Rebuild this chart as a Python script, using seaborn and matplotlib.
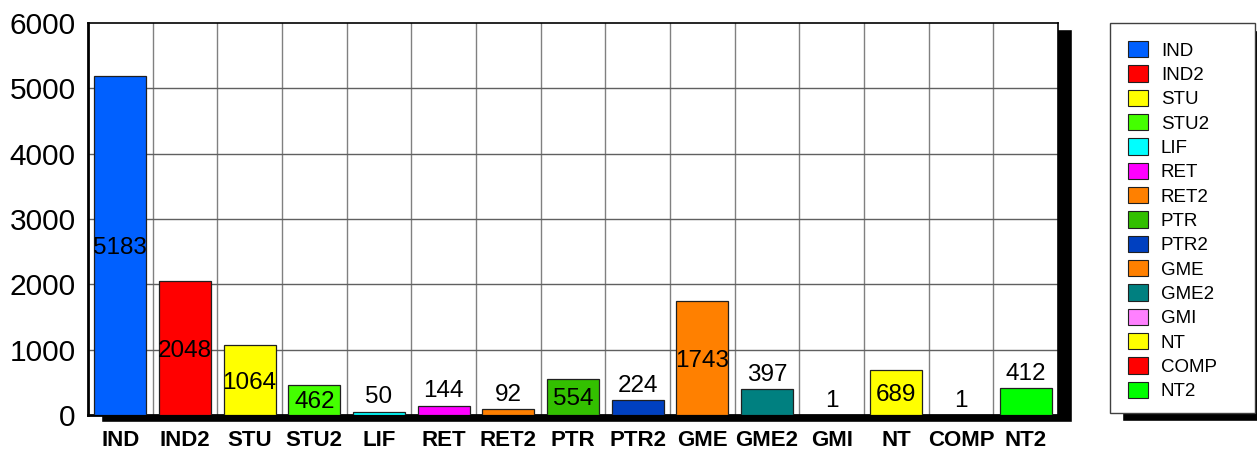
import matplotlib
matplotlib.use("Agg")
import matplotlib.pyplot as plt
import seaborn as sns
from matplotlib.patches import Rectangle, Patch

categories = ["IND", "IND2", "STU", "STU2", "LIF", "RET", "RET2", "PTR", "PTR2",
              "GME", "GME2", "GMI", "NT", "COMP", "NT2"]
values = [5183, 2048, 1064, 462, 50, 144, 92, 554, 224, 1743, 397, 1, 689, 1, 412]
colors = ["#0060FF", "#FF0000", "#FFFF00", "#44FF00", "#00FFFF", "#FF00FF", "#FF8000",
          "#33C000", "#0040C0", "#FF8000", "#008080", "#FF80FF", "#FFFF00", "#FF0000",
          "#00FF00"]
y_ticks = [0, 1000, 2000, 3000, 4000, 5000, 6000]

sns.set_style("white")
plt.rcParams["font.family"] = ["Liberation Sans", "DejaVu Sans"]
plt.rcParams["text.color"] = "black"
plt.rcParams["xtick.color"] = "black"
plt.rcParams["ytick.color"] = "black"

W, H = 1257, 453
fig = plt.figure(figsize=(W / 100, H / 100), dpi=100)

def fx(px):
    return px / W

def fy(py):
    return 1 - py / H

# plot area shadow
fig.patches.append(Rectangle((fx(101), fy(422)), fx(1072) - fx(101), fy(29) - fy(422),
                             transform=fig.transFigure, facecolor="black", zorder=-2))
ax = fig.add_axes([fx(88), fy(415), fx(1058) - fx(88), fy(23) - fy(415)])
ax.set_facecolor("white")

sns.barplot(x=categories, y=values, hue=categories, palette=colors, legend=False,
            width=0.8, edgecolor="#202020", linewidth=0.9, saturation=1, ax=ax, zorder=3)

ax.set_xlim(-0.5, len(categories) - 0.5)
ax.set_ylim(0, 6000)
ax.set_yticks(y_ticks)
ax.set_yticklabels([str(t) for t in y_ticks], fontsize=21.5)
ax.set_xticks(range(len(categories)))
ax.set_xticklabels(categories, fontsize=16, fontweight="bold")
ax.tick_params(axis="y", length=0, pad=9)
ax.tick_params(axis="x", length=0, pad=11)
ax.set_xlabel("")
ax.set_ylabel("")

# grid
for i in range(1, len(categories)):
    ax.axvline(i - 0.5, color="#808080", lw=1, zorder=1)
for t in y_ticks[1:-1]:
    ax.axhline(t, color="#606060", lw=1, zorder=1)

for side in ["top", "right"]:
    ax.spines[side].set_color("black")
    ax.spines[side].set_linewidth(1.2)
ax.spines["left"].set_color("black")
ax.spines["left"].set_linewidth(2)
ax.spines["bottom"].set_color("black")
ax.spines["bottom"].set_linewidth(2)

# value labels
for i, v in enumerate(values):
    if v >= 450:
        ax.text(i, v / 2, str(v), ha="center", va="center_baseline", fontsize=17.5, zorder=5)
    else:
        ax.annotate(str(v), (i, v), xytext=(0, 6), textcoords="offset points",
                    ha="center", va="baseline", fontsize=17.5, zorder=5)

# legend box with shadow
fig.patches.append(Rectangle((fx(1122), fy(421)), fx(1270) - fx(1122), fy(30) - fy(421),
                             transform=fig.transFigure, facecolor="black", zorder=-2))
fig.patches.append(Rectangle((fx(1110), fy(413)), fx(1255) - fx(1110), fy(23) - fy(413),
                             transform=fig.transFigure, facecolor="white",
                             edgecolor="#404040", lw=1, zorder=-1))
handles = [Patch(facecolor=c, edgecolor="#202020", lw=0.8) for c in colors]
fig.legend(handles, categories, loc="upper left",
           bbox_to_anchor=(fx(1128), fy(41)), frameon=False, fontsize=13.5,
           borderpad=0, borderaxespad=0, handlelength=1.05, handleheight=0.95,
           handletextpad=0.7, labelspacing=0.31)

fig.savefig("out.png", dpi=100)
